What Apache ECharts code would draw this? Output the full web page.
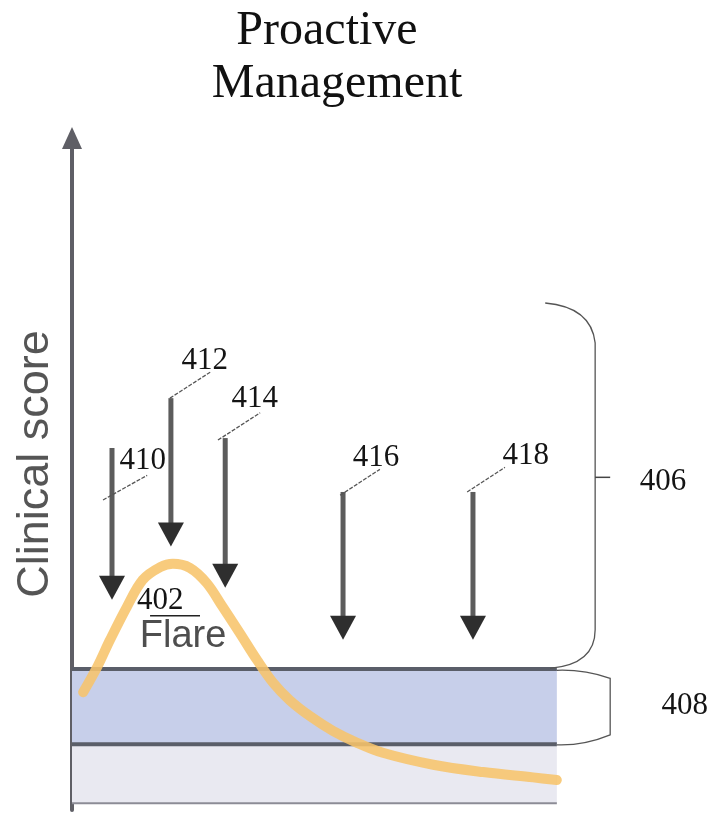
<!DOCTYPE html>
<html>
<head>
<meta charset="utf-8">
<script src="https://cdn.jsdelivr.net/npm/echarts@6/dist/echarts.min.js"></script>
<style>html,body{margin:0;padding:0;background:#fff}#c{width:713px;height:815px}</style>
</head>
<body>
<div id="c"></div>
<script>
// ---- data (x: 0..132 time units, band ends at 100; y: clinical score -1..100) ----
const titleLines = ['Proactive', 'Management'];
const yAxisName = 'Clinical score';

const curveX = [2.3, 5.2, 7.8, 11.3, 14.6, 18.2, 20.8, 24.3, 27.8, 31.1, 34.6, 38.2, 41.5, 44.9, 49.1, 53.8, 58.8, 64.1, 74.5, 84.8, 95.1, 100];
const curveY = [16.7, 20.5, 24.5, 29.5, 33.6, 35.5, 36.0, 35.4, 33.1, 29.5, 25.6, 21.5, 18.1, 15.5, 13.1, 10.9, 9.1, 7.6, 5.8, 4.7, 3.9, 3.5];

const bandStart = 0, bandEnd = 100;
const lowerBand = [0, 8.9];
const upperBand = [8.9, 20.2];

const arrowNames = ['410', '412', '414', '416', '418'];
const arrowX    = [8.25, 20.4, 31.6, 55.9, 82.7];
const arrowTop  = [53.4, 60.9, 54.9, 46.8, 46.8];
const arrowTip  = [30.6, 38.6, 32.4, 24.6, 24.6];

const labelX = [14.6, 27.4, 37.7, 62.7, 93.6];
const labelY = [51.5, 66.5, 60.8, 51.9, 52.2];

const leaderStart = [[6.4, 45.6], [20.2, 60.9], [30.1, 54.6], [55.3, 46.3], [81.5, 46.8]];
const leaderEnd   = [[15.5, 49.3], [28.5, 64.8], [38.8, 58.7], [63.5, 50.2], [89.3, 50.5]];

const flareRef = {text: '402', x: 18.2, y: 30.4};
const flareUnderline = [[16.1, 28.2], [26.4, 28.2]];
const flareName = {text: 'Flare', x: 22.9, y: 25.1};

const brace406 = [[97.6, 75.2], [107.9, 69.2], [107.9, 26.1], [98.6, 20.3]];
const brace406Tick = [[107.9, 49.0], [111.0, 49.0]];
const brace408 = [[100, 20.0], [111.0, 18.8], [111.0, 10.3], [100, 8.8]];
const braceLabels = [{text: '406', x: 121.9, y: 48.3}, {text: '408', x: 126.4, y: 14.6}];

// ---- chart ----
const chart = echarts.init(document.getElementById('c'), null, {renderer: 'canvas'});
const serif = '"Liberation Serif", "Times New Roman", serif';
const sans = '"Liberation Sans", Arial, sans-serif';

function bandItem(params, api) {
  const lo = api.value(0), hi = api.value(1);
  const p0 = api.coord([bandStart, hi]);
  const p1 = api.coord([bandEnd, lo]);
  return {type: 'rect', shape: {x: p0[0], y: p0[1], width: p1[0] - p0[0], height: p1[1] - p0[1]},
    style: {fill: api.value(2) === 0 ? '#e9e9f1' : '#c7cfea'}};
}

const option = {
  animation: false,
  grid: {left: 72, top: 138, width: 640, height: 672, containLabel: false},
  xAxis: {type: 'value', min: 0, max: 132, show: false},
  yAxis: {
    type: 'value', min: -1, max: 100,
    axisLine: {show: true, symbol: ['none', 'triangle'], symbolSize: [20, 22],
      lineStyle: {color: '#5f5f66', width: 4}},
    axisTick: {show: false}, axisLabel: {show: false}, splitLine: {show: false}
  },
  graphic: [
    {type: 'text', x: 327, y: 31, style: {text: titleLines[0], font: '48px ' + serif, fill: '#111',
      align: 'center', verticalAlign: 'middle'}},
    {type: 'text', x: 337, y: 84, style: {text: titleLines[1], font: '48px ' + serif, fill: '#111',
      align: 'center', verticalAlign: 'middle'}},
    {type: 'text', x: 36, y: 464, rotation: Math.PI / 2, style: {text: yAxisName, font: '45px ' + sans,
      fill: '#555', align: 'center', verticalAlign: 'middle'}}
  ],
  series: [
    {
      type: 'custom', z: 1, silent: true,
      data: [[lowerBand[0], lowerBand[1], 0], [upperBand[0], upperBand[1], 1]],
      renderItem: bandItem
    },
    {
      type: 'custom', z: 2, silent: true,
      data: [[lowerBand[0], 2], [lowerBand[1], 4], [upperBand[1], 4]],
      renderItem: function (params, api) {
        const v = api.value(0);
        const a = api.coord([bandStart, v]), b = api.coord([bandEnd, v]);
        return {type: 'line', shape: {x1: a[0], y1: a[1], x2: b[0], y2: b[1]},
          style: {stroke: params.dataIndex === 0 ? '#8c8c96' : '#5a5e69', lineWidth: api.value(1)}};
      }
    },
    {
      type: 'line', z: 3, smooth: 0.35, showSymbol: false, silent: true,
      data: curveX.map((x, i) => [x, curveY[i]]),
      lineStyle: {color: '#f7c46b', width: 10, opacity: 0.88, cap: 'round'}
    },
    {
      type: 'custom', z: 4, silent: true,
      data: arrowX.map((x, i) => [x, arrowTop[i], arrowTip[i]]),
      renderItem: function (params, api) {
        const t = api.coord([api.value(0), api.value(1)]);
        const p = api.coord([api.value(0), api.value(2)]);
        const hh = 24, hw = 13;
        return {type: 'group', children: [
          {type: 'line', shape: {x1: t[0], y1: t[1], x2: p[0], y2: p[1] - hh + 2},
            style: {stroke: '#5c5c5c', lineWidth: 5}},
          {type: 'polygon', shape: {points: [[p[0] - hw, p[1] - hh], [p[0] + hw, p[1] - hh], [p[0], p[1]]]},
            style: {fill: '#2e2e2e'}}
        ]};
      }
    },
    {
      type: 'custom', z: 5, silent: true,
      data: leaderStart.map((s, i) => [s[0], s[1], leaderEnd[i][0], leaderEnd[i][1]]),
      renderItem: function (params, api) {
        const a = api.coord([api.value(0), api.value(1)]);
        const b = api.coord([api.value(2), api.value(3)]);
        return {type: 'line', shape: {x1: a[0], y1: a[1], x2: b[0], y2: b[1]},
          style: {stroke: '#555', lineWidth: 1.3, lineDash: [4, 1.5]}};
      }
    },
    {
      type: 'custom', z: 6, silent: true,
      data: labelX.map((x, i) => [x, labelY[i], arrowNames[i]]).concat(
        braceLabels.map(b => [b.x, b.y, b.text]), [[flareRef.x, flareRef.y, flareRef.text]]),
      renderItem: function (params, api) {
        const p = api.coord([api.value(0), api.value(1)]);
        return {type: 'text', x: p[0], y: p[1], style: {text: String(api.value(2)), font: '31px ' + serif,
          fill: '#141414', align: 'center', verticalAlign: 'middle'}};
      }
    },
    {
      type: 'custom', z: 6, silent: true,
      data: [[flareName.x, flareName.y]],
      renderItem: function (params, api) {
        const p = api.coord([api.value(0), api.value(1)]);
        const u0 = api.coord(flareUnderline[0]), u1 = api.coord(flareUnderline[1]);
        return {type: 'group', children: [
          {type: 'text', x: p[0], y: p[1], style: {text: flareName.text, font: '38px ' + sans,
            fill: '#4e4e4e', align: 'center', verticalAlign: 'middle'}},
          {type: 'line', shape: {x1: u0[0], y1: u0[1], x2: u1[0], y2: u1[1]},
            style: {stroke: '#222', lineWidth: 1.5}}
        ]};
      }
    },
    {
      type: 'custom', z: 6, silent: true,
      data: [[0]],
      renderItem: function (params, api) {
        const b = brace406.map(p => api.coord(p));
        const c = brace408.map(p => api.coord(p));
        const t0 = api.coord(brace406Tick[0]), t1 = api.coord(brace406Tick[1]);
        const path1 = 'M' + b[0][0] + ',' + b[0][1] +
          ' Q' + (b[1][0] - 4) + ',' + (b[0][1] + 4) + ' ' + b[1][0] + ',' + b[1][1] +
          ' L' + b[2][0] + ',' + b[2][1] +
          ' Q' + b[2][0] + ',' + (b[3][1] - 4) + ' ' + b[3][0] + ',' + b[3][1];
        const path2 = 'M' + c[0][0] + ',' + c[0][1] +
          ' Q' + ((c[0][0] + c[1][0]) / 2) + ',' + (c[0][1] - 1) + ' ' + c[1][0] + ',' + c[1][1] +
          ' L' + c[2][0] + ',' + c[2][1] +
          ' Q' + ((c[3][0] + c[2][0]) / 2) + ',' + (c[3][1] + 1) + ' ' + c[3][0] + ',' + c[3][1];
        return {type: 'group', children: [
          {type: 'path', shape: {pathData: path1}, style: {stroke: '#555', lineWidth: 1.3, fill: null}},
          {type: 'path', shape: {pathData: path2}, style: {stroke: '#555', lineWidth: 1.3, fill: null}},
          {type: 'line', shape: {x1: t0[0], y1: t0[1], x2: t1[0], y2: t1[1]}, style: {stroke: '#444', lineWidth: 1.5}}
        ]};
      }
    }
  ]
};
chart.setOption(option);
</script>
</body>
</html>
